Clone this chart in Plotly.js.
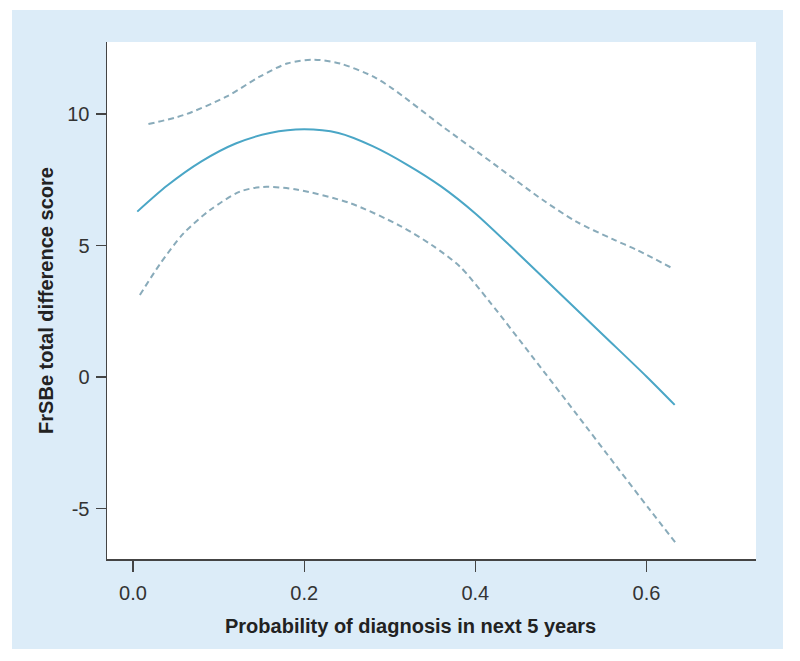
<!DOCTYPE html>
<html>
<head>
<meta charset="utf-8">
<script src="https://cdn.plot.ly/plotly-3.0.1.min.js"></script>
<style>html,body{margin:0;padding:0;background:#fff;}#chart{width:800px;height:661px;}</style>
</head>
<body>
<div id="chart"></div>
<script>
// Fitted curve
const fitX = [0.005, 0.04, 0.08, 0.12, 0.16, 0.20, 0.24, 0.28, 0.32, 0.36, 0.40, 0.45, 0.50, 0.55, 0.60, 0.633];
const fitY = [6.29, 7.28, 8.20, 8.88, 9.28, 9.42, 9.28, 8.78, 8.08, 7.25, 6.22, 4.70, 3.14, 1.58, 0.02, -1.06];
// Upper confidence band
const upperX = [0.018, 0.059, 0.109, 0.148, 0.180, 0.211, 0.242, 0.281, 0.304, 0.362, 0.421, 0.479, 0.518, 0.560, 0.589, 0.630];
const upperY = [9.62, 9.96, 10.66, 11.42, 11.92, 12.07, 11.92, 11.42, 10.95, 9.52, 8.12, 6.73, 5.91, 5.25, 4.83, 4.14];
// Lower confidence band
const lowerX = [0.008, 0.032, 0.059, 0.090, 0.125, 0.152, 0.191, 0.253, 0.312, 0.350, 0.382, 0.417, 0.467, 0.519, 0.565, 0.604, 0.636];
const lowerY = [3.12, 4.32, 5.46, 6.35, 7.05, 7.23, 7.13, 6.62, 5.75, 5.00, 4.20, 2.85, 0.76, -1.44, -3.40, -5.05, -6.38];
// Axis ticks
const xTicks = [0, 0.2, 0.4, 0.6];
const xTickText = ['0.0', '0.2', '0.4', '0.6'];
const yTicks = [-5, 0, 5, 10];
const yTickText = ['-5', '0', '5', '10'];

const dashColor = '#89abba';
const fitColor = '#4aa6c6';
const font = 'Liberation Sans, Arial, sans-serif';

const traces = [
  {x: upperX, y: upperY, mode: 'lines', line: {color: dashColor, width: 2, dash: '6px,4px', shape: 'spline', smoothing: 0.8}, showlegend: false, hoverinfo: 'skip'},
  {x: lowerX, y: lowerY, mode: 'lines', line: {color: dashColor, width: 2, dash: '6px,4px', shape: 'spline', smoothing: 0.8}, showlegend: false, hoverinfo: 'skip'},
  {x: fitX, y: fitY, mode: 'lines', line: {color: fitColor, width: 2, shape: 'spline', smoothing: 0.8}, showlegend: false}
];

const layout = {
  width: 800, height: 661,
  margin: {l: 107, r: 44, t: 42, b: 102, pad: 0},
  paper_bgcolor: '#ffffff',
  plot_bgcolor: 'rgba(0,0,0,0)',
  font: {family: font, color: '#333333', size: 20},
  showlegend: false,
  shapes: [
    {type: 'rect', xref: 'paper', yref: 'paper', x0: -0.1464, x1: 1.0416, y0: -0.1741, y1: 1.0619,
     fillcolor: '#dcecf8', line: {width: 0}, layer: 'below'},
    {type: 'rect', xref: 'paper', yref: 'paper', x0: 0, x1: 1, y0: 0, y1: 1,
     fillcolor: '#ffffff', line: {width: 0}, layer: 'below'}
  ],
  annotations: [
    {text: '<b>Probability of diagnosis in next 5 years</b>', xref: 'paper', yref: 'paper',
     x: 0.467, y: -0.1296, xanchor: 'center', yanchor: 'middle', showarrow: false,
     font: {family: font, size: 20, color: '#222222'}}
  ],
  xaxis: {
    range: [-0.0304, 0.728],
    tickvals: xTicks, ticktext: xTickText,
    showgrid: false, zeroline: false,
    showline: true, linecolor: '#444444', linewidth: 1.5,
    ticks: 'outside', ticklen: 11, tickwidth: 1.2, tickcolor: '#444444',
    ticklabelstandoff: 4,
    tickfont: {family: font, size: 20, color: '#333333'}
  },
  yaxis: {
    range: [-6.92, 12.74],
    tickvals: yTicks, ticktext: yTickText,
    showgrid: false, zeroline: false,
    showline: true, linecolor: '#444444', linewidth: 1.5,
    ticks: 'outside', ticklen: 10, tickwidth: 1.2, tickcolor: '#444444',
    ticklabelstandoff: 2,
    tickfont: {family: font, size: 20, color: '#333333'},
    title: {text: '<b>FrSBe total difference score</b>', font: {family: font, size: 20, color: '#222222'}, standoff: 8}
  }
};

Plotly.newPlot('chart', traces, layout, {displayModeBar: false, staticPlot: true});
</script>
</body>
</html>
